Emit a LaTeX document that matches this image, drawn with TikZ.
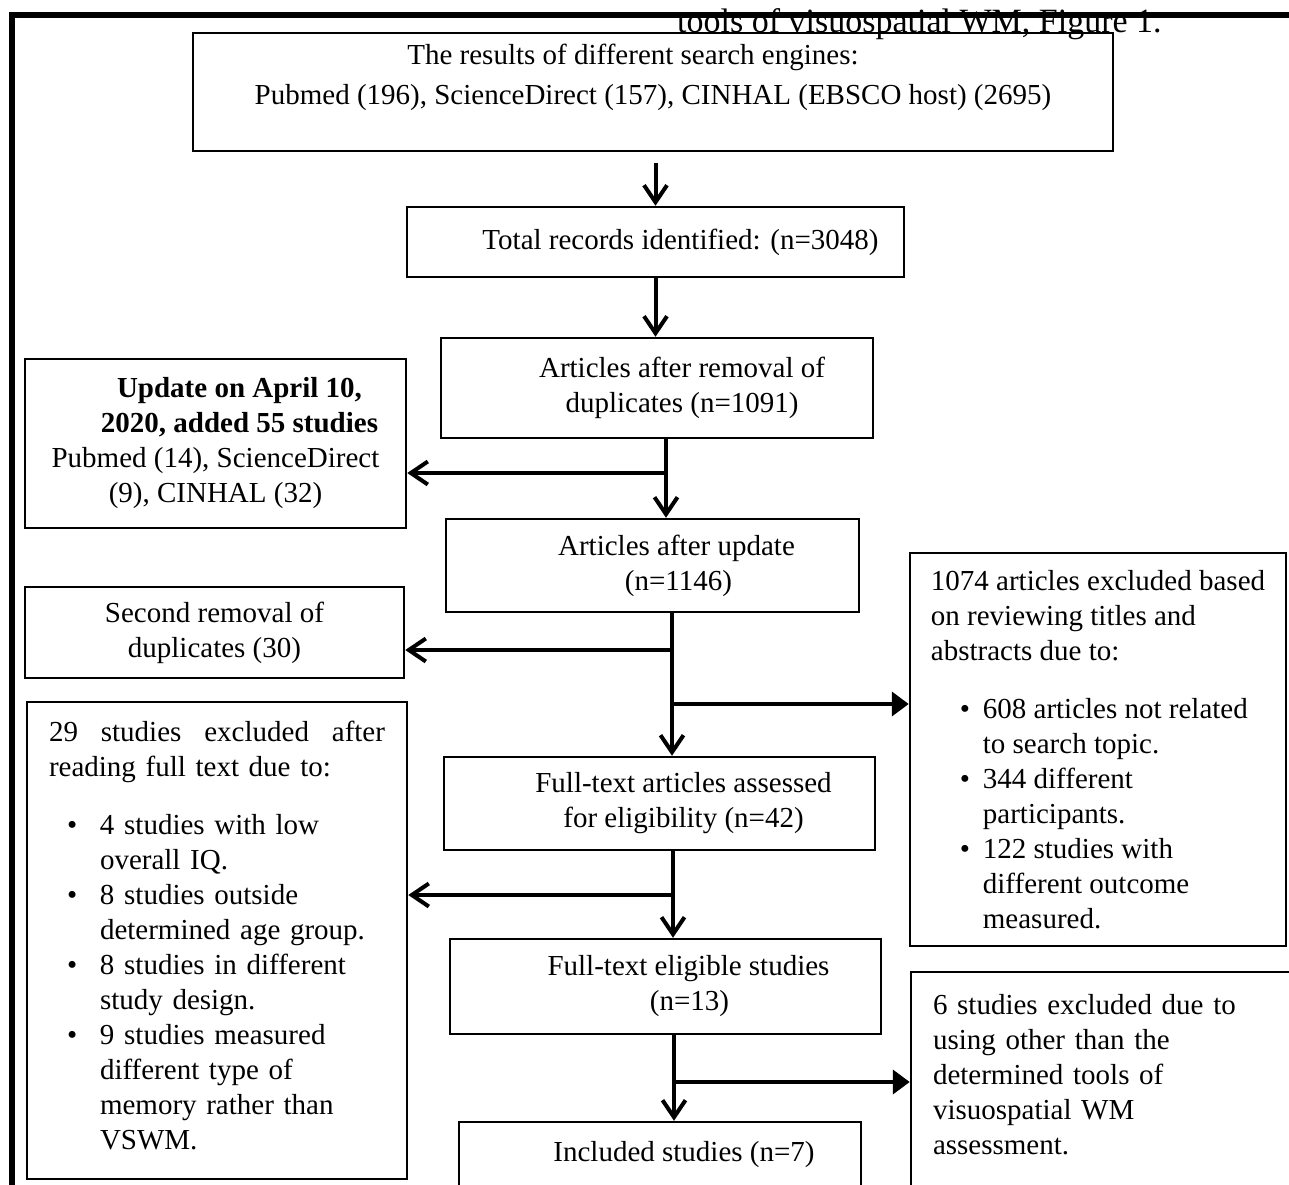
\documentclass[tikz,border=0pt]{standalone}
\usepackage{fontspec}
\setmainfont{Liberation Serif}
\usetikzlibrary{arrows.meta,calc,positioning}

\begin{document}
\begin{tikzpicture}[x=1pt,y=-1pt,
    every node/.style={font=\fontsize{29}{35}\selectfont, inner sep=0pt},
    box/.style={draw, line width=2.5pt, align=center},
    lbox/.style={draw, line width=2.5pt, align=left},
    link/.style={line width=4pt},
    arr/.style={line width=4pt, -{Straight Barb[length=17pt,width=23pt]}},
    farr/.style={line width=4pt, -{Triangle[length=17pt,width=24pt]}}]
    \useasboundingbox (0,0) rectangle (1289,1184);

    % Page frame and caption left over from the page
    \draw[line width=6pt] (12,1200) -- (12,14.5) -- (1300,14.5);
    \node[font=\fontsize{34}{40}\selectfont, anchor=base west] (cap) at (677,32)
        {tools of visuospatial WM, Figure 1.};

    % Main column
    \node[box, minimum width=920pt, minimum height=118pt] (src) at (653,92)
        {\hspace*{-40pt}The results of different search engines:\\[5pt]
         Pubmed (196), ScienceDirect (157), CINHAL (EBSCO host) (2695)\\ \mbox{}};
    \node[box, minimum width=497pt, minimum height=70pt] (total) at (655.5,242)
        {\hspace*{50pt}Total records identified: (n=3048)};
    \node[box, minimum width=432pt, minimum height=100pt] (dedup) at (657,388)
        {\hspace*{50pt}Articles after removal of\\ \hspace*{50pt}duplicates (n=1091)};
    \node[box, minimum width=413pt, minimum height=93pt] (aupd) at (652.5,565.5)
        {\hspace*{48pt}Articles after update\\ \hspace*{52pt}(n=1146)};
    \node[box, minimum width=431pt, minimum height=93pt] (assess) at (659.5,803.5)
        {\hspace*{48pt}Full-text articles assessed\\ \hspace*{48pt}for eligibility (n=42)};
    \node[box, minimum width=431pt, minimum height=95pt] (elig) at (665.5,986.5)
        {\hspace*{46pt}Full-text eligible studies\\ \hspace*{48pt}(n=13)};
    \node[box, minimum width=402pt, minimum height=66pt] (incl) at (660,1155)
        {\hspace*{48pt}Included studies (n=7)};

    % Left column
    \node[box, minimum width=381pt, minimum height=169pt] (upd) at (215.5,443.5)
        {\hspace*{48pt}\textbf{Update on April 10,}\\
         \hspace*{48pt}\textbf{2020, added 55 studies}\\
         Pubmed (14), ScienceDirect\\ (9), CINHAL (32)};
    \node[box, minimum width=379pt, minimum height=91pt] (dup2) at (214.5,632.5)
        {Second removal of\\ duplicates (30)};
    \node[lbox, text width=336pt, minimum width=380pt, minimum height=477pt] (excl2) at (217,940.5)
        {\makebox[336pt][l]{29\hfill studies\hfill excluded\hfill after}\\
         reading full text due to:\\[23pt]
         \hspace*{18pt}\makebox[33pt][l]{\textbullet}4 studies with low\\
         \hspace*{51pt}overall IQ.\\
         \hspace*{18pt}\makebox[33pt][l]{\textbullet}8 studies outside\\
         \hspace*{51pt}determined age group.\\
         \hspace*{18pt}\makebox[33pt][l]{\textbullet}8 studies in different\\
         \hspace*{51pt}study design.\\
         \hspace*{18pt}\makebox[33pt][l]{\textbullet}9 studies measured\\
         \hspace*{51pt}different type of\\
         \hspace*{51pt}memory rather than\\
         \hspace*{51pt}VSWM.\\[-25pt] \mbox{}};

    % Right column
    \node[lbox, minimum width=376pt, minimum height=393pt] (excl1) at (1098,749.5)
        {1074 articles excluded based\\
         on reviewing titles and\\
         abstracts due to:\\[23pt]
         \hspace*{29pt}\makebox[23pt][l]{\textbullet}608 articles not related\\
         \hspace*{52pt}to search topic.\\
         \hspace*{29pt}\makebox[23pt][l]{\textbullet}344 different\\
         \hspace*{52pt}participants.\\
         \hspace*{29pt}\makebox[23pt][l]{\textbullet}122 studies with\\
         \hspace*{52pt}different outcome\\
         \hspace*{52pt}measured.};
    \node[lbox, text width=345pt, minimum width=389pt, minimum height=274pt] (excl3) at (1105.5,1109)
        {6 studies excluded due to\\ using other than the\\ determined tools of\\
         visuospatial WM\\ assessment.\\ \mbox{}\\ \mbox{}};

    % Branch points
    \coordinate (b1) at (666,473);
    \coordinate (b2) at (672,650);
    \coordinate (b3) at (672,704);
    \coordinate (b4) at (673,895);
    \coordinate (b5) at (674,1082);

    % Connectors
    \draw[arr] ([yshift=-11pt]src.south -| total.north) -- (total.north);
    \draw[arr] (total.south) -- (total.south |- dedup.north);
    \draw[link] (dedup.south -| b1) -- (b1);
    \draw[arr] (b1) -- (b1 |- aupd.north);
    \draw[arr] (b1) -- (b1 -| upd.east);
    \draw[link] (aupd.south -| b2) -- (b2) -- (b3);
    \draw[arr] (b2) -- (b2 -| dup2.east);
    \draw[farr] (b3) -- (b3 -| excl1.west);
    \draw[arr] (b3) -- (b3 |- assess.north);
    \draw[link] (assess.south -| b4) -- (b4);
    \draw[arr] (b4) -- (b4 -| excl2.east);
    \draw[arr] (b4) -- (b4 |- elig.north);
    \draw[link] (elig.south -| b5) -- (b5);
    \draw[farr] (b5) -- (b5 -| excl3.west);
    \draw[arr] (b5) -- (b5 |- incl.north);
\end{tikzpicture}
\end{document}
